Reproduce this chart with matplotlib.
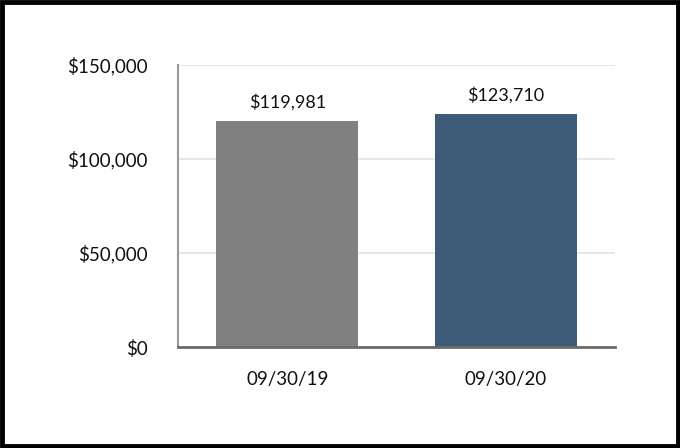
import matplotlib.pyplot as plt
from matplotlib.patches import Rectangle
from matplotlib.ticker import FuncFormatter

plt.rcParams['font.family'] = ['Lato', 'DejaVu Sans']

dates = ['09/30/19', '09/30/20']
values = [119981, 123710]
colors = ['#808080', '#3d5a78']
yticks = [0, 50000, 100000, 150000]

fig = plt.figure(figsize=(6.8, 4.48), dpi=100)
ax = fig.add_axes([0.2618, 0.2254, 0.6426, 0.6295])

x = range(len(dates))
bars = ax.bar(x, values, width=0.65, color=colors, zorder=3)
for b, v in zip(bars, values):
    ax.text(b.get_x() + b.get_width() / 2, v + 6000, f'${v:,}',
            ha='center', va='bottom', fontsize=13, color='#111111')

ax.set_xlim(-0.5, 1.5)
ax.set_ylim(0, 150000)
ax.set_yticks(yticks)
ax.yaxis.set_major_formatter(FuncFormatter(lambda v, p: f'${v:,.0f}'))
ax.set_xticks(list(x))
ax.set_xticklabels(dates)
ax.tick_params(axis='both', length=0, labelsize=13.5, colors='#111111')
ax.tick_params(axis='y', pad=22)
ax.tick_params(axis='x', pad=17)

ax.grid(axis='y', color='#e3e3e3', linewidth=1.2, zorder=0)
for s in ['top', 'right']:
    ax.spines[s].set_visible(False)
ax.spines['left'].set_color('#9a9a9a')
ax.spines['left'].set_linewidth(1.5)
ax.spines['bottom'].set_color('#6a6a6a')
ax.spines['bottom'].set_linewidth(2)
ax.spines['bottom'].set_zorder(4)

fig.patches.append(Rectangle((0.003, 0.004), 0.994, 0.992, transform=fig.transFigure,
                             fill=False, edgecolor='black', linewidth=3.5))

fig.savefig('out.png', dpi=100)
